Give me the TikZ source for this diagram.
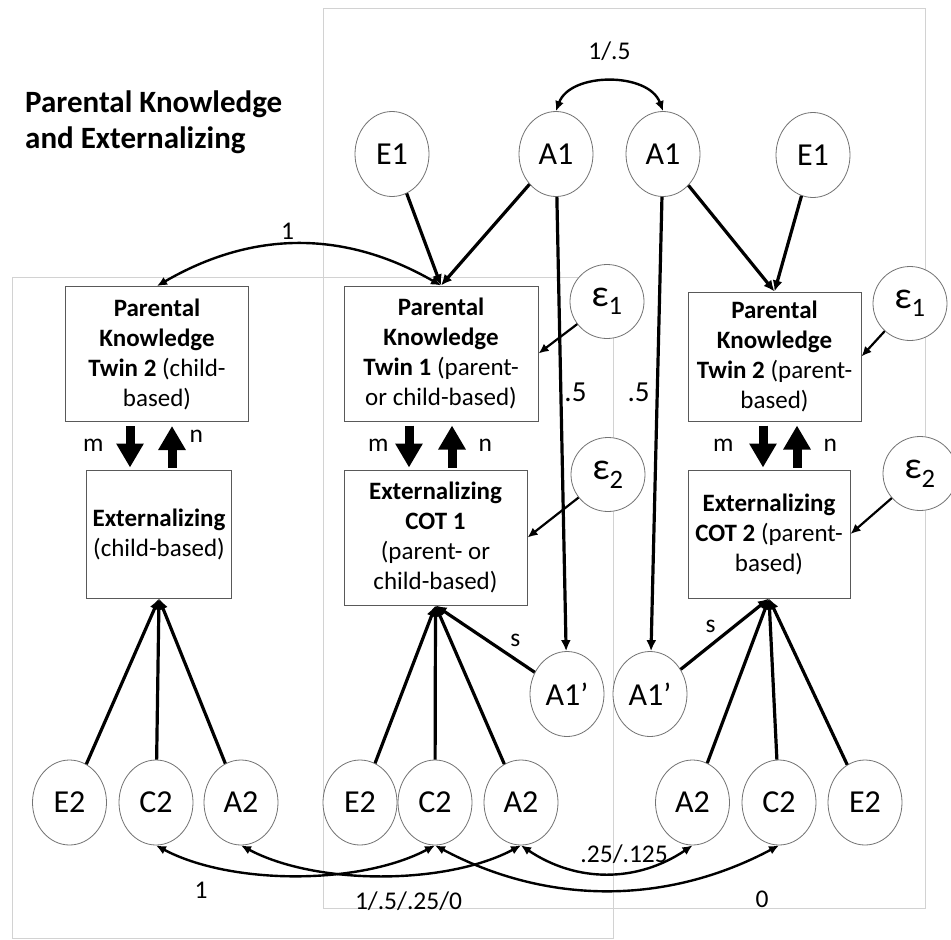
\documentclass[tikz,border=0pt]{standalone}
\usepackage{fontspec}
\setmainfont{Carlito}
\usetikzlibrary{positioning,shapes.geometric,arrows.meta}

\begin{document}
\begin{tikzpicture}[x=1pt,y=1pt,
		latent/.style={ellipse,draw=gray!90!black,fill=white,line width=0.8pt,minimum width=74pt,minimum height=85pt,inner sep=0pt,font=\fontsize{32}{36}\selectfont},
		err/.style={latent,minimum width=74pt,minimum height=74pt,font=\fontsize{38}{42}\selectfont},
		obs/.style={rectangle,draw=gray!70!black,fill=white,line width=1pt,align=center,inner sep=0pt,font=\fontsize{25}{30}\selectfont},
		path/.style={line width=3.2pt,-{Latex[length=11pt,width=10pt]}},
		resid/.style={line width=2.2pt,-{Latex[length=10pt,width=9pt]}},
		cov/.style={line width=2.4pt,{Latex[length=10pt,width=9pt]}-{Latex[length=10pt,width=9pt]}},
		block/.style={line width=9pt,-{Triangle[length=24pt,width=26pt]}},
		lbl/.style={inner sep=1pt,font=\fontsize{25.5}{29}\selectfont},
		frame/.style={draw=gray!35,line width=0.8pt}]
	\useasboundingbox (0,0) rectangle (951,-940);

	% twin frames
	\draw[frame] (323,-8) rectangle (925,-908);
	\draw[frame] (12,-277) rectangle (613,-938);

	\node[anchor=north west,align=left,inner sep=0pt,font=\bfseries\fontsize{31}{36}\selectfont] (title) at (25,-91) {Parental Knowledge\\and Externalizing};

	% top latent factors
	\node[latent] (E1a) at (392,-154) {E1};
	\node[latent] (A1a) at (556,-154) {A1};
	\node[latent] (A1b) at (663,-154) {A1};
	\node[latent] (E1b) at (813,-155) {E1};

	% observed measures
	\node[obs,minimum width=183pt,minimum height=135pt] (pkA) at (157,-354) {\textbf{Parental}\\\textbf{Knowledge}\\\textbf{Twin 2} (child-\\based)};
	\node[obs,minimum width=145pt,minimum height=128pt] (extA) at (159,-534) {\textbf{Externalizing}\\(child-based)};
	\node[obs,minimum width=194pt,minimum height=135pt] (pkB) at (441,-353.5) {\textbf{Parental}\\\textbf{Knowledge}\\\textbf{Twin 1} (parent-\\or child-based)};
	\node[obs,minimum width=183pt,minimum height=135pt] (extB) at (435.5,-537.5) {\textbf{Externalizing}\\\textbf{COT 1}\\(parent- or\\child-based)};
	\node[obs,minimum width=173pt,minimum height=129pt] (pkC) at (774.5,-356.5) {\textbf{Parental}\\\textbf{Knowledge}\\\textbf{Twin 2} (parent-\\based)};
	\node[obs,minimum width=162pt,minimum height=128pt] (extC) at (769,-534) {\textbf{Externalizing}\\\textbf{COT 2} (parent-\\based)};

	% residuals
	\node[err] (eps1a) at (607,-301.5) {ε\textsubscript{1}};
	\node[err] (eps2a) at (608,-474.5) {ε\textsubscript{2}};
	\node[err] (eps1b) at (910,-303.5) {ε\textsubscript{1}};
	\node[err] (eps2b) at (920,-473.5) {ε\textsubscript{2}};

	% lower latent factors
	\node[latent] (A1pa) at (567,-694) {A1’};
	\node[latent] (A1pb) at (650,-694) {A1’};
	\node[latent] (E2a) at (69.5,-802.5) {E2};
	\node[latent] (C2a) at (156,-802.5) {C2};
	\node[latent] (A2a) at (241,-802.5) {A2};
	\node[latent] (E2b) at (360,-802.5) {E2};
	\node[latent] (C2b) at (435,-802.5) {C2};
	\node[latent] (A2b) at (521,-802.5) {A2};
	\node[latent] (A2c) at (692.5,-802.5) {A2};
	\node[latent] (C2c) at (779,-802.5) {C2};
	\node[latent] (E2c) at (865,-802.5) {E2};

	% paths into parental knowledge
	\draw[path] (E1a) -- (pkB.north);
	\draw[path] (A1a) -- (pkB.north);
	\draw[path] (A1b) -- (pkC.north);
	\draw[path] (E1b) -- (pkC.north);
	\draw[path] (A1a) -- node[lbl,pos=0.43,right=1pt,font=\fontsize{29}{32}\selectfont] {.5} (A1pa);
	\draw[path] (A1b) -- node[lbl,pos=0.43,left=5pt,font=\fontsize{29}{32}\selectfont] {.5} (A1pb);
	\draw[cov] (A1a.north) to[bend left=70] node[lbl,midway,above=19pt] {1/.5} (A1b.north);
	\draw[cov] (pkB.north) to[bend right=30] node[lbl,pos=0.54,above=3pt] {1} (pkA.north);

	\draw[resid] (eps1a) -- (pkB.east);
	\draw[resid] (eps2a) -- (extB.east);
	\draw[resid] (eps1b) -- (pkC.east);
	\draw[resid] (eps2b) -- (extC.east);

	% m and n
	\draw[block,shorten <=4pt,shorten >=2pt] ([xshift=-27pt]pkA.south) -- ([xshift=-27pt]pkA.south |- extA.north) node[lbl,midway,left=21pt] {m};
	\draw[block,shorten <=2pt,shorten >=4pt] ([xshift=15pt]pkA.south |- extA.north) -- ([xshift=15pt]pkA.south) node[lbl,pos=0.7,right=12pt] {n};
	\draw[block,shorten <=4pt,shorten >=2pt] ([xshift=-32pt]pkB.south) -- ([xshift=-32pt]pkB.south |- extB.north) node[lbl,midway,left=15pt] {m};
	\draw[block,shorten <=2pt,shorten >=4pt] ([xshift=11pt]pkB.south |- extB.north) -- ([xshift=11pt]pkB.south) node[lbl,midway,right=21pt] {n};
	\draw[block,shorten <=4pt,shorten >=2pt] ([xshift=-11.5pt]pkC.south) -- ([xshift=-11.5pt]pkC.south |- extC.north) node[lbl,midway,left=24pt] {m};
	\draw[block,shorten <=2pt,shorten >=4pt] ([xshift=22.5pt]pkC.south |- extC.north) -- ([xshift=22.5pt]pkC.south) node[lbl,midway,right=21pt] {n};

	% paths into externalizing
	\foreach \f in {E2a,C2a,A2a}
		\draw[path] (\f) -- (extA.south);
	\foreach \f in {E2b,C2b,A2b}
		\draw[path] (\f) -- (extB.south);
	\foreach \f in {A2c,C2c,E2c}
		\draw[path] (\f) -- (extC.south);
	\draw[path] (A1pa) -- node[lbl,pos=0.3,above right=4pt] {s} (extB.south);
	\draw[path] (A1pb) -- node[lbl,pos=0.45,above left=3pt] {s} (extC.south);

	% twin covariances
	\draw[cov] (C2a.south) to[bend right=28,looseness=0.78] node[lbl,pos=0.18,below=17pt] {1} (C2b.south);
	\draw[cov] (A2a.south) to[bend right=28,looseness=0.78] node[lbl,pos=0.59,below=15pt] {1/.5/.25/0} (A2b.south);
	\draw[cov] (A2b.south) to[bend right=34] node[lbl,pos=0.6,above=7pt] {.25/.125} (A2c.south);
	\draw[cov] (C2b.south) to[bend right=28,looseness=0.95] node[lbl,pos=0.95,below=35pt] {0} (C2c.south);
\end{tikzpicture}
\end{document}
